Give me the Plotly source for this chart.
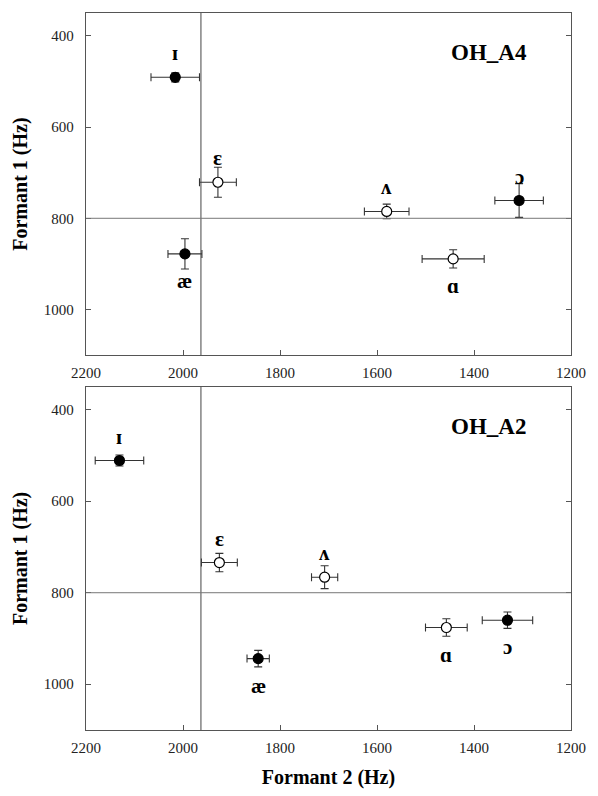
import plotly.graph_objects as go
from plotly.subplots import make_subplots

# ---- data ----
vowels = ["ɪ", "ɛ", "æ", "ʌ", "ɔ", "ɑ"]
filled = [True, False, True, False, True, False]

# OH_A4 (top panel)
a4_f2 = [2016, 1928, 1996, 1580, 1307, 1443]
a4_f1 = [491, 721, 878, 785, 761, 889]
a4_f2_err = [50, 38, 35, 46, 50, 64]
a4_f1_err = [10, 33, 33, 16, 37, 20]
a4_label_pos = ["above", "above", "below", "above", "above", "below"]

# OH_A2 (bottom panel)
a2_f2 = [2131, 1925, 1845, 1708, 1331, 1457]
a2_f1 = [511, 734, 944, 766, 860, 876]
a2_f2_err = [50, 37, 23, 27, 52, 43]
a2_f1_err = [12, 20, 18, 25, 18, 19]
a2_label_pos = ["above", "above", "below", "above", "below", "below"]

panel_names = ["OH_A4", "OH_A2"]
ref_f2 = 1963
ref_f1 = 800
x_ticks = [2200, 2000, 1800, 1600, 1400, 1200]
y_ticks = [400, 600, 800, 1000]

SERIF = "Liberation Serif"
FRAME = "#555555"

fig = make_subplots(rows=2, cols=1, vertical_spacing=0.0)

panels = [
    (a4_f2, a4_f1, a4_f2_err, a4_f1_err, a4_label_pos),
    (a2_f2, a2_f1, a2_f2_err, a2_f1_err, a2_label_pos),
]

for row, (f2, f1, ex, ey, pos) in enumerate(panels, start=1):
    for i, v in enumerate(vowels):
        fig.add_trace(go.Scatter(
            x=[f2[i]], y=[f1[i]], mode="markers",
            marker=dict(size=10, color="black" if filled[i] else "white",
                        line=dict(color="black", width=1.2)),
            error_x=dict(type="data", array=[ex[i]], color="#333333",
                         thickness=1.1, width=4),
            error_y=dict(type="data", array=[ey[i]], color="#333333",
                         thickness=1.1, width=4),
            showlegend=False, hoverinfo="skip",
        ), row=row, col=1)
        fig.add_annotation(
            x=f2[i], y=f1[i], text="<b>%s</b>" % v, showarrow=False,
            yshift=24 if pos[i] == "above" else -27,
            font=dict(family=SERIF, size=21, color="black"),
            row=row, col=1,
        )
    xref = "x" if row == 1 else "x2"
    yref = "y" if row == 1 else "y2"
    fig.add_shape(type="line", xref=xref, yref=yref + " domain",
                  x0=ref_f2, x1=ref_f2, y0=0, y1=1,
                  line=dict(color="#444444", width=1))
    fig.add_shape(type="line", xref=xref + " domain", yref=yref,
                  x0=0, x1=1, y0=ref_f1, y1=ref_f1,
                  line=dict(color="#777777", width=1))
    fig.add_annotation(
        xref=xref + " domain", yref=yref + " domain", x=0.83, y=0.885,
        xanchor="center", yanchor="middle",
        text="<b>%s</b>" % panel_names[row - 1], showarrow=False,
        font=dict(family=SERIF, size=23, color="black"),
    )

axis_common = dict(showline=True, linecolor=FRAME, linewidth=1.3,
                   showgrid=False, zeroline=False,
                   tickfont=dict(family=SERIF, size=15, color="#222222"),
                   ticks="inside", ticklen=5, tickcolor=FRAME)

for ax in ["xaxis", "xaxis2"]:
    fig.update_layout(**{ax: dict(axis_common, range=[2200, 1200],
                                  tickvals=x_ticks, mirror=True,
                                  ticklabelstandoff=4)})
for ax in ["yaxis", "yaxis2"]:
    fig.update_layout(**{ax: dict(axis_common, range=[1100, 350],
                                  tickvals=y_ticks, mirror="ticks",
                                  ticklabelstandoff=8,
                                  title=dict(text="<b>Formant 1 (Hz)</b>",
                                             font=dict(family=SERIF, size=20, color="black"),
                                             standoff=10))})

fig.update_layout(
    xaxis=dict(domain=[0, 1]),
    yaxis=dict(domain=[0.5228, 1.0]),
    xaxis2=dict(domain=[0, 1],
                title=dict(text="<b>Formant 2 (Hz)</b>",
                           font=dict(family=SERIF, size=20, color="black"),
                           standoff=14)),
    yaxis2=dict(domain=[0.0, 0.4786]),
    width=598, height=796,
    margin=dict(l=86, r=16, t=12, b=61),
    plot_bgcolor="white", paper_bgcolor="white",
)

fig.write_html("out.html",
               config={"displayModeBar": False},
               post_script="document.body.style.margin='0';document.body.style.overflow='hidden';")
